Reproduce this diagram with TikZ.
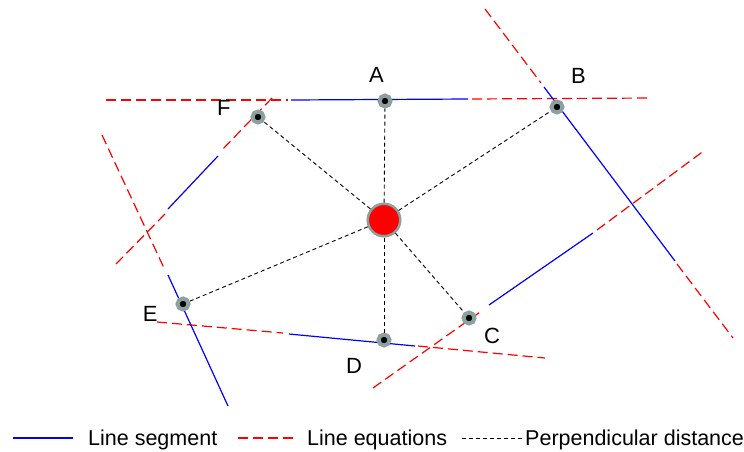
\documentclass[tikz,border=0pt]{standalone}
\usepackage{fontspec}
\setmainfont{Liberation Sans}
\definecolor{ringgray}{RGB}{140,160,160}

\begin{document}
\begin{tikzpicture}[x=1pt,y=-1pt,
    seg/.style={blue,line width=1.2pt},
    eqn/.style={red,line width=1.2pt,dash pattern=on 10pt off 5pt},
    perp/.style={black,line width=0.9pt,dash pattern=on 4pt off 3pt},
    pnt/.style={circle,draw=ringgray,fill=black,line width=4pt,minimum size=11pt,inner sep=0pt},
    every label/.style={font=\fontsize{22}{26}\selectfont,inner sep=0pt},
    lgd/.style={font=\fontsize{21.5}{26}\selectfont,inner sep=0pt,anchor=base west}]
        \useasboundingbox (0,0) rectangle (744,451);
        % line through A
        \coordinate (a1) at (106,100); \coordinate (a2) at (288,100);
        \coordinate (a3) at (291,100); \coordinate (a4) at (468,99);
        \coordinate (a5) at (472,99); \coordinate (a6) at (650,98);
        \draw[eqn] (a1) -- (a2); \draw[seg] (a3) -- (a4); \draw[eqn] (a5) -- (a6);
        % line through B
        \coordinate (b1) at (485,9); \coordinate (b2) at (541,83);
        \coordinate (b3) at (544,87); \coordinate (b4) at (675,261);
        \coordinate (b5) at (677,264); \coordinate (b6) at (733,338);
        \draw[eqn] (b1) -- (b2); \draw[seg] (b3) -- (b4); \draw[eqn] (b5) -- (b6);
        % line through C
        \coordinate (c1) at (373,388); \coordinate (c2) at (483,310);
        \coordinate (c3) at (489,305); \coordinate (c4) at (593,233);
        \coordinate (c5) at (597,230); \coordinate (c6) at (705,150);
        \draw[eqn] (c1) -- (c2); \draw[seg] (c3) -- (c4); \draw[eqn] (c5) -- (c6);
        % line through D
        \coordinate (d1) at (157,322); \coordinate (d2) at (283,333);
        \coordinate (d3) at (289,334); \coordinate (d4) at (415,346);
        \coordinate (d5) at (418,346); \coordinate (d6) at (545,358);
        \draw[eqn] (d1) -- (d2); \draw[seg] (d3) -- (d4); \draw[eqn] (d5) -- (d6);
        % line through E
        \coordinate (e1) at (102,135); \coordinate (e2) at (164,268);
        \coordinate (e3) at (168,275); \coordinate (e4) at (228,406);
        \draw[eqn] (e1) -- (e2); \draw[seg] (e3) -- (e4);
        % line through F
        \coordinate (f1) at (272,98); \coordinate (f2) at (221,151);
        \coordinate (f3) at (218,156); \coordinate (f4) at (168,209);
        \coordinate (f5) at (165,214); \coordinate (f6) at (115,265);
        \draw[eqn] (f1) -- (f2); \draw[seg] (f3) -- (f4); \draw[eqn] (f5) -- (f6);

        \node[circle,draw=ringgray,fill=red,line width=2.5pt,minimum size=32.5pt,inner sep=0pt] (O) at (384,220) {};
        \node[pnt,label={[label distance=10.4pt]93.4:A}] (A) at (385,101) {};
        \node[pnt,label={[label distance=19.7pt]59.2:B}] (B) at (557,107) {};
        \node[pnt,label={[label distance=10.5pt]-34:C}] (C) at (469,318) {};
        \node[pnt,label={[label distance=20.9pt]220.8:D}] (D) at (384,340) {};
        \node[pnt,label={[label distance=17.8pt]186.1:E}] (E) at (183,304) {};
        \node[pnt,label={[label distance=19.8pt]177.5:F}] (F) at (258,117) {};
        \foreach \p in {A,B,C,D,E,F}
            \draw[perp] (O) -- (\p);

        % legend
        \coordinate (l1) at (13,438); \coordinate (l2) at (73,438);
        \coordinate (l3) at (238,438); \coordinate (l4) at (297,438);
        \coordinate (l5) at (462,438); \coordinate (l6) at (524,438);
        \draw[seg] (l1) -- (l2);
        \draw[eqn] (l3) -- (l4);
        \draw[perp] (l5) -- (l6);
        \node[lgd] (tseg) at (88,445) {Line segment};
        \node[lgd] (teqn) at (307,445) {Line equations};
        \node[lgd] (tperp) at (525,445) {Perpendicular distance};
    \end{tikzpicture}
\end{document}
